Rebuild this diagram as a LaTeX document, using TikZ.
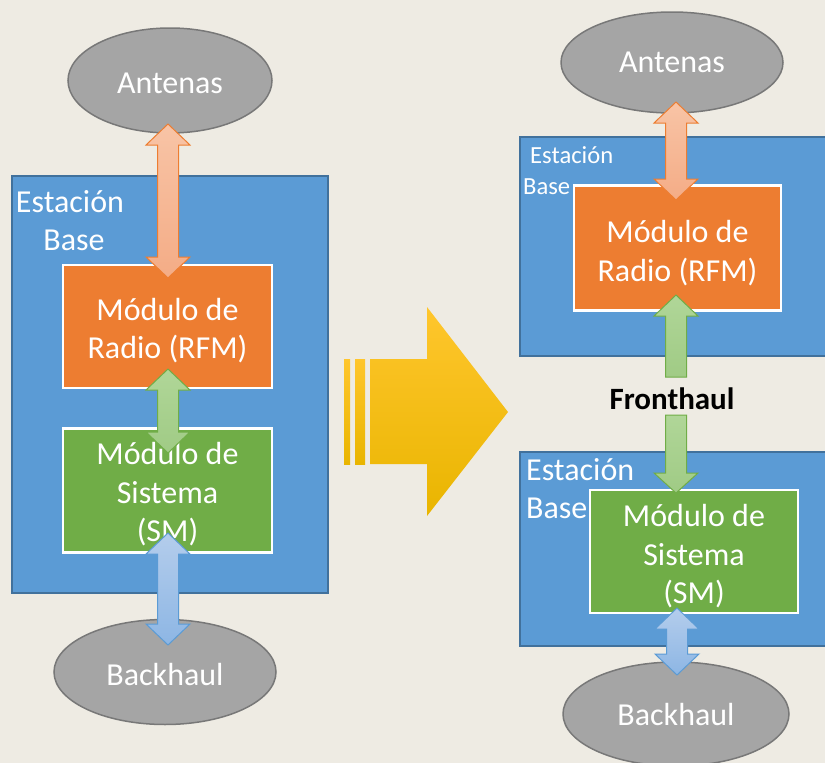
\documentclass[tikz,border=0pt]{standalone}
\usepackage{fontspec}
\setmainfont{Carlito}
\usetikzlibrary{shapes.geometric}

\definecolor{paper}{RGB}{238,235,227}
\definecolor{bsfill}{RGB}{91,155,213}
\definecolor{bsline}{RGB}{65,113,156}
\definecolor{rfm}{RGB}{237,125,49}
\definecolor{sm}{RGB}{112,173,71}
\definecolor{cloud}{RGB}{165,165,165}
\definecolor{cloudline}{RGB}{120,120,120}
\definecolor{orTop}{RGB}{248,196,166}
\definecolor{orBot}{RGB}{244,172,134}
\definecolor{grTop}{RGB}{176,214,152}
\definecolor{grBot}{RGB}{160,203,133}
\definecolor{blTop}{RGB}{180,205,236}
\definecolor{blBot}{RGB}{141,182,228}
\definecolor{ylTop}{RGB}{255,198,45}
\definecolor{ylMid}{RGB}{255,194,0}
\definecolor{ylBot}{RGB}{233,181,0}

\tikzset{
  bigtext/.style={font=\fontsize{32}{38.5}\selectfont},
  station/.style={draw=bsline, line width=2pt, fill=bsfill},
  module/.style={draw=white, line width=2.5pt, inner sep=0pt},
  rfmbox/.style={module, fill=rfm},
  smbox/.style={module, fill=sm},
  modtext/.style={text=white, align=center, inner sep=0pt, bigtext, yshift=-4pt},
  endpoint/.style={ellipse, draw=cloudline, line width=1.5pt, fill=cloud,
    inner sep=0pt},
  eptext/.style={text=white, inner sep=0pt, bigtext},
  label/.style={text=white, inner sep=0pt},
  orarrow/.style={draw=rfm, line width=1pt, top color=orTop, bottom color=orBot},
  grarrow/.style={draw=sm, line width=1pt, top color=grTop, bottom color=grBot},
  blarrow/.style={draw=bsfill, line width=1pt, top color=blTop, bottom color=blBot},
  ylshade/.style={top color=ylTop, middle color=ylMid, bottom color=ylBot},
}

% vertical double-headed block arrow: x, top tip y, bottom tip y, style
\newcommand\vdouble[4]{%
  \draw[#4] (#1,#2) -- ({#1+22},{#2+21}) -- ({#1+10.5},{#2+21})
    -- ({#1+10.5},{#3-21}) -- ({#1+22},{#3-21}) -- (#1,#3)
    -- ({#1-22},{#3-21}) -- ({#1-10.5},{#3-21}) -- ({#1-10.5},{#2+21})
    -- ({#1-22},{#2+21}) -- cycle;}
% vertical single-headed block arrow pointing up: x, tip y, tail y, style
\newcommand\vup[4]{%
  \draw[#4] (#1,#2) -- ({#1+22},{#2+21}) -- ({#1+10.5},{#2+21})
    -- ({#1+10.5},#3) -- ({#1-10.5},#3) -- ({#1-10.5},{#2+21})
    -- ({#1-22},{#2+21}) -- cycle;}
% vertical single-headed block arrow pointing down: x, tail y, tip y, style
\newcommand\vdown[4]{%
  \draw[#4] ({#1-10.5},#2) -- ({#1+10.5},#2) -- ({#1+10.5},{#3-20})
    -- ({#1+22},{#3-20}) -- (#1,#3) -- ({#1-22},{#3-20})
    -- ({#1-10.5},{#3-20}) -- cycle;}

\begin{document}
\begin{tikzpicture}[x=1pt, y=-1pt]
\useasboundingbox (0,0) rectangle (825,763);
\clip (0,0) rectangle (825,763);
\fill[paper] (0,0) rectangle (825,763);

% ---------- monolithic base station ----------
\draw[station] (12,176) rectangle (328,593);
\node[label, bigtext, anchor=base] (bsLa) at (70,212) {Estación};
\node[label, bigtext, anchor=base] (bsLb) at (74,250) {Base};
\node[rfmbox, minimum width=209pt, minimum height=123pt] (rfmL) at (167.5,326.5) {};
\node[modtext] (rfmLt) at (rfmL.center) {Módulo de\\Radio (RFM)};
\node[smbox, minimum width=209pt, minimum height=124pt] (smL) at (167.5,490.5) {};
\node[modtext] (smLt) at (smL.center) {Módulo de\\Sistema\\(SM)};
\node[endpoint, minimum width=204pt, minimum height=105pt] (antL) at (170,80.5) {};
\node[eptext, yshift=-3pt] (antLt) at (antL.center) {Antenas};
\node[endpoint, minimum width=222pt, minimum height=105pt] (bhL) at (165,672) {};
\node[eptext, yshift=-2pt] (bhLt) at (bhL.center) {Backhaul};

% ---------- split base station: radio part ----------
\draw[station] (520,137) rectangle (830,356);
\node[label, anchor=base west, font=\fontsize{24.6}{30}\selectfont] (bsRa) at (530,163) {Estación};
\node[label, anchor=base west, font=\fontsize{24.6}{30}\selectfont] (bsRb) at (523,194) {Base};
\node[rfmbox, minimum width=207pt, minimum height=125pt] (rfmR) at (677.5,248) {};
\node[modtext, yshift=-1pt] (rfmRt) at (rfmR.center) {Módulo de\\Radio (RFM)};
\node[endpoint, minimum width=222pt, minimum height=101pt] (antR) at (672,62.5) {};
\node[eptext] (antRt) at (antR.center) {Antenas};

% ---------- split base station: system part ----------
\draw[station] (520,452) rectangle (830,646);
\node[label, bigtext, anchor=base west] (bsSa) at (526,480) {Estación};
\node[label, bigtext, anchor=base west] (bsSb) at (526,518) {Base};
\node[smbox, minimum width=208pt, minimum height=123pt] (smR) at (694,551.5) {};
\node[modtext, yshift=-1pt] (smRt) at (smR.center) {Módulo de\\Sistema\\(SM)};
\node[endpoint, minimum width=226pt, minimum height=104pt] (bhR) at (676,714) {};
\node[eptext] (bhRt) at (bhR.center) {Backhaul};

% ---------- fronthaul label ----------
\node[anchor=base, inner sep=0pt, font=\fontsize{31}{36}\selectfont\bfseries] (fh) at (672,409) {Fronthaul};

% ---------- block arrows ----------
\vdouble{168}{124}{278}{orarrow}
\vdouble{168}{369}{453}{grarrow}
\vdouble{168}{533}{645}{blarrow}
\vdouble{676}{102}{200}{orarrow}
\vup{676}{295}{377}{grarrow}
\vdown{676}{415}{493}{grarrow}
\vdouble{677}{608}{675}{blarrow}

% ---------- transition arrow ----------
\shade[ylshade] (344,359) rectangle (350,464);
\shade[ylshade] (355,359) rectangle (365,464);
\shade[ylshade]
  (370,359) -- (427,359) -- (427,307) -- (508,412) -- (427,516)
  -- (427,464) -- (370,464) -- cycle;
\end{tikzpicture}
\end{document}
